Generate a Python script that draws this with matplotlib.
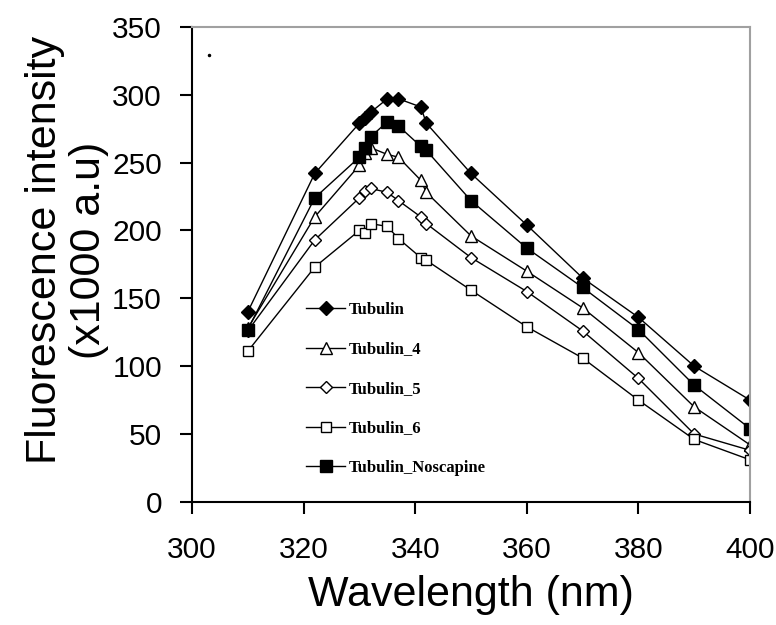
import matplotlib
matplotlib.use("Agg")
import matplotlib.pyplot as plt

wavelength = [310, 322, 330, 331, 332, 335, 337, 341, 342, 350, 360, 370, 380, 390, 400]
tubulin = [140, 242, 279, 283, 287, 297, 297, 291, 279, 242, 204, 165, 136, 100, 75]
tubulin_4 = [128, 210, 248, 257, 261, 256, 254, 237, 228, 196, 170, 143, 110, 70, 42]
tubulin_5 = [126, 193, 224, 229, 231, 228, 222, 210, 205, 180, 155, 126, 91, 50, 38]
tubulin_6 = [111, 173, 200, 198, 205, 203, 194, 180, 178, 156, 129, 106, 75, 46, 31]
tubulin_nos = [127, 224, 254, 261, 269, 280, 277, 262, 259, 222, 187, 158, 127, 86, 54]
labels = ["Tubulin", "Tubulin_4", "Tubulin_5", "Tubulin_6", "Tubulin_Noscapine"]
stray_x = [303]
stray_y = [329]

fig = plt.figure(figsize=(7.76, 6.25), dpi=100)
ax = fig.add_axes([0.2474, 0.197, 0.7191, 0.760])

styles = [
    dict(marker="D", ms=6.8, mfc="black", mec="black"),
    dict(marker="^", ms=8.5, mfc="white", mec="black"),
    dict(marker="D", ms=6.0, mfc="white", mec="black"),
    dict(marker="s", ms=7.5, mfc="white", mec="black"),
    dict(marker="s", ms=8.5, mfc="black", mec="black"),
]
series = [tubulin, tubulin_4, tubulin_5, tubulin_6, tubulin_nos]
for ys, lab, st in zip(series, labels, styles):
    ax.plot(wavelength, ys, color="black", lw=1.0, mew=1.0, label=lab, **st)

ax.plot(stray_x, stray_y, marker="o", ms=1.5, color="black", ls="none")

ax.set_xlim(300, 400)
ax.set_ylim(0, 350)
ax.set_xticks([300, 320, 340, 360, 380, 400])
ax.set_yticks(range(0, 351, 50))

for s in ["left", "bottom"]:
    ax.spines[s].set_color("black")
    ax.spines[s].set_linewidth(1.5)
for s in ["top", "right"]:
    ax.spines[s].set_color("#a0a0a0")
    ax.spines[s].set_linewidth(1.5)

ax.tick_params(direction="out", length=8.6, width=1.5, labelsize=21.5)
ax.tick_params(axis="y", pad=13)
ax.tick_params(axis="x", pad=16)
for t in ax.get_xticklabels() + ax.get_yticklabels():
    t.set_fontfamily("Liberation Sans")

ax.set_xlabel("Wavelength (nm)", fontsize=31, fontfamily="Liberation Sans", labelpad=8)
ax.set_ylabel("Fluorescence intensity\n(x1000 a.u)", fontsize=31,
              fontfamily="Liberation Sans", linespacing=1.15)
ax.yaxis.set_label_coords(-0.148, 0.53)

leg = ax.legend(loc="upper left", bbox_to_anchor=(0.193, 0.435), frameon=False,
                numpoints=1, handlelength=2.3, handletextpad=0.25, labelspacing=1.41,
                prop={"family": "Liberation Serif", "weight": "bold", "size": 12},
                borderaxespad=0)

fig.savefig("out.png", dpi=100)
